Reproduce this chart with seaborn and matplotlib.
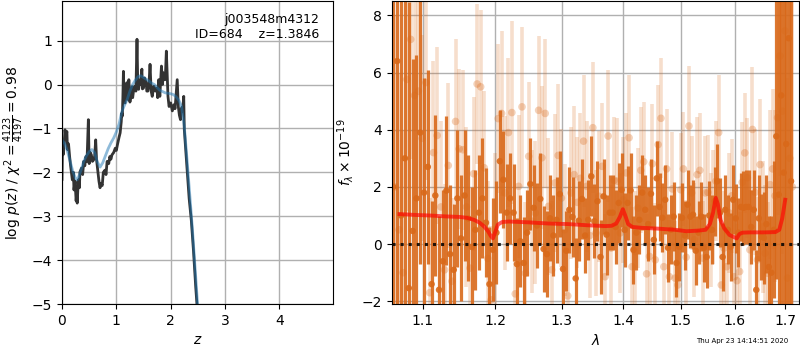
"""
Redshift fit summary: log p(z) on the left, 1D spectrum + best-fit model on the right.
"""

import matplotlib
matplotlib.use("Agg")
import matplotlib.pyplot as plt
import seaborn as sns
from matplotlib.ticker import NullLocator, FixedLocator, FixedFormatter


# ======================================================
# Data
# ======================================================

# log p(z) curve (dark, jagged)
pz_z = [0.00, 0.01, 0.02, 0.04, 0.055, 0.07, 0.09, 0.10, 0.12, 0.14,
        0.16, 0.19, 0.21, 0.22, 0.24, 0.26, 0.27, 0.28, 0.30, 0.32,
        0.33, 0.36, 0.38, 0.40, 0.42, 0.44, 0.46, 0.485, 0.50, 0.52,
        0.54, 0.56, 0.58, 0.60, 0.62, 0.635, 0.65, 0.68, 0.70, 0.72,
        0.74, 0.76, 0.79, 0.81, 0.83, 0.86, 0.88, 0.90, 0.92, 0.95,
        0.98, 1.00, 1.02, 1.05, 1.07, 1.09, 1.10, 1.11, 1.12, 1.13,
        1.14, 1.16, 1.19, 1.21, 1.23, 1.25, 1.27, 1.29, 1.30, 1.32,
        1.34, 1.36, 1.38, 1.395, 1.41, 1.43, 1.44, 1.47, 1.48, 1.50,
        1.52, 1.55, 1.56, 1.58, 1.60, 1.62, 1.64, 1.66, 1.69, 1.72,
        1.75, 1.76, 1.78, 1.80, 1.83, 1.85, 1.86, 1.88, 1.90, 1.92,
        1.95, 1.97, 2.00, 2.03, 2.06, 2.08, 2.12, 2.14, 2.16, 2.18,
        2.20, 2.22, 2.24, 2.25, 2.30, 2.34, 2.38, 2.42, 2.46, 2.50]
pz_logp = [-2.16, -1.30, -1.60, -1.35, -1.03, -1.20, -1.07, -1.48, -1.35, -1.64,
           -1.87, -2.17, -2.00, -2.40, -2.20, -2.65, -2.50, -2.70, -2.17, -2.35,
           -1.99, -1.90, -2.05, -1.75, -1.85, -1.64, -1.75, -0.80, -1.80, -1.55,
           -1.60, -1.75, -1.72, -1.64, -1.26, -1.70, -1.87, -2.20, -2.35, -2.25,
           -2.30, -2.00, -1.95, -2.05, -1.75, -1.80, -1.64, -1.70, -1.60, -1.55,
           -1.45, -1.50, -1.37, -1.20, -1.10, -0.85, -0.65, -0.72, -0.30, 0.30,
           -0.40, -0.42, 0.04, -0.34, 0.11, -0.40, -0.23, -0.05, -0.30, -0.11,
           -0.04, -0.15, 1.03, -0.05, -0.11, 0.10, 0.00, 0.35, -0.10, -0.08,
           0.15, 0.04, -0.15, -0.15, 0.00, 0.46, -0.15, -0.27, -0.04, -0.15,
           -0.08, -0.30, 0.11, -0.27, 0.42, 0.00, 0.27, 0.11, 0.11, 0.76,
           -0.27, -0.50, -0.42, -0.60, -0.46, -0.55, 0.11, -0.50, -0.70, -0.80,
           -0.53, -0.60, -0.27, -1.02, -1.90, -2.60, -3.10, -3.80, -4.60, -5.30]

# smooth curve (light blue)
prior_z = [0.00, 0.05, 0.10, 0.15, 0.20, 0.25, 0.28, 0.30, 0.35, 0.40,
           0.45, 0.50, 0.55, 0.60, 0.65, 0.70, 0.75, 0.80, 0.85, 0.90,
           0.95, 1.00, 1.05, 1.10, 1.15, 1.20, 1.25, 1.30, 1.35, 1.40,
           1.45, 1.50, 1.55, 1.60, 1.65, 1.70, 1.75, 1.80, 1.85, 1.90,
           1.95, 2.00, 2.05, 2.10, 2.15, 2.20, 2.25, 2.30, 2.35, 2.40,
           2.45, 2.50, 2.55]
prior_logp = [-1.26, -1.35, -1.52, -1.75, -1.98, -2.14, -2.17, -2.12, -1.95, -1.75,
              -1.62, -1.53, -1.48, -1.55, -1.76, -1.88, -1.78, -1.62, -1.46, -1.33,
              -1.22, -1.08, -0.90, -0.62, -0.47, -0.34, -0.15, 0.00, 0.10, 0.18,
              0.20, 0.16, 0.12, 0.08, 0.03, 0.00, -0.07, -0.13, -0.16, -0.19,
              -0.20, -0.21, -0.23, -0.28, -0.36, -0.50, -0.95, -1.70, -2.50, -3.30,
              -4.20, -5.10, -5.90]

# spectrum, combined (dark orange)
spec_wave = [1.062, 1.067, 1.072, 1.077, 1.082, 1.087, 1.092, 1.097, 1.102, 1.107,
             1.112, 1.117, 1.122, 1.127, 1.132, 1.137, 1.142, 1.147, 1.152, 1.157,
             1.162, 1.167, 1.172, 1.177, 1.182, 1.187, 1.192, 1.197, 1.202, 1.207,
             1.212, 1.217, 1.222, 1.227, 1.232, 1.237, 1.242, 1.247, 1.252, 1.257,
             1.262, 1.267, 1.272, 1.277, 1.282, 1.287, 1.292, 1.297, 1.302, 1.307,
             1.312, 1.317, 1.322, 1.327, 1.332, 1.337, 1.342, 1.347, 1.352, 1.357,
             1.362, 1.367, 1.372, 1.377, 1.382, 1.387, 1.392, 1.397, 1.402, 1.407,
             1.412, 1.417, 1.422, 1.427, 1.432, 1.437, 1.442, 1.447, 1.452, 1.457,
             1.462, 1.467, 1.472, 1.477, 1.482, 1.487, 1.492, 1.497, 1.502, 1.507,
             1.512, 1.517, 1.522, 1.527, 1.532, 1.537, 1.542, 1.547, 1.552, 1.557,
             1.562, 1.567, 1.572, 1.577, 1.582, 1.587, 1.592, 1.597, 1.602, 1.607,
             1.612, 1.617, 1.622, 1.627, 1.632, 1.637, 1.642, 1.647, 1.652, 1.657,
             1.662, 1.667, 1.672, 1.677, 1.682, 1.687, 1.692, 1.697, 1.702, 1.707,
             1.712]
spec_flux = [2.0, 6.4, 1.0, 3.0, -1.54, 0.46, 1.6, 3.9, 1.8, 2.7,
             -1.4, 1.7, -1.6, -0.6, 1.87, -0.35, -0.9, 1.6, 0.2, 1.7,
             0.9, -0.1, 0.5, 1.1, 1.6, 0.75, -1.4, -0.2, 0.4, 2.9,
             2.25, 1.1, 1.6, 1.1, -0.7, 0.1, -0.66, 0.4, 2.1, 1.27,
             0.65, 1.58, -0.17, -0.35, 0.9, 0.3, 0.85, 1.75, -0.87, -0.23,
             1.2, 0.95, -1.2, 0.82, 1.58, 0.3, 0.85, 2.37, 0.8, 1.5,
             -0.45, 1.67, 0.33, 1.1, 1.1, 0.6, 1.44, 1.9, 0.5, 1.44,
             1.88, -0.2, 0.4, 0.85, 1.8, 1.2, 0.7, 1.76, 0.15, 2.3,
             1.3, 0.92, 1.55, -0.13, 0.5, 0.96, -0.66, -0.1, 0.92, 0.3,
             1.38, 0.96, 1.03, -0.23, 0.4, 0.96, -0.13, -0.45, 1.0, 0.5,
             1.5, 2.2, 1.1, -0.45, 1.2, 0.5, -0.1, 1.55, 0.9, 0.4,
             1.3, 1.27, 1.3, 1.3, 0.6, 1.2, -1.6, 0.9, 0.26, 0.22,
             0.7, -0.8, -1.0, 0.5, 3.77, 1.73, 5.2, 2.5, 3.5, 7.2,
             2.2]
spec_err = [14, 12, 14, 11, 10, 6.0, 5.0, 4.6, 4.0, 3.4,
            2.9, 2.8, 2.6, 2.5, 2.6, 2.4, 2.3, 2.4, 2.2, 2.3,
            2.2, 2.1, 2.1, 2.0, 2.1, 1.9, 2.0, 1.8, 1.8, 1.8,
            1.7, 1.7, 1.6, 1.7, 1.6, 1.6, 1.6, 1.5, 1.6, 1.5,
            1.5, 1.6, 1.5, 1.5, 1.5, 1.4, 1.5, 1.5, 1.4, 1.4,
            1.5, 1.4, 1.4, 1.4, 1.4, 1.3, 1.4, 1.4, 1.3, 1.4,
            1.3, 1.3, 1.4, 1.3, 1.3, 1.3, 1.4, 1.3, 1.3, 1.3,
            1.3, 1.2, 1.3, 1.2, 1.3, 1.2, 1.3, 1.2, 1.2, 1.3,
            1.2, 1.2, 1.2, 1.2, 1.2, 1.2, 1.2, 1.2, 1.2, 1.2,
            1.2, 1.1, 1.2, 1.2, 1.1, 1.2, 1.2, 1.1, 1.2, 1.2,
            1.2, 1.3, 1.2, 1.2, 1.2, 1.2, 1.2, 1.2, 1.2, 1.2,
            1.2, 1.3, 1.3, 1.3, 1.3, 1.4, 1.4, 1.5, 1.5, 1.6,
            1.7, 1.8, 2.0, 2.4, 5.0, 9.0, 12, 14, 15, 15,
            16]

# spectrum, individual beams (pale orange)
beam_wave = [1.0645, 1.0695, 1.0745, 1.0795, 1.0845, 1.0895, 1.0945, 1.0995, 1.1045, 1.1095,
             1.1145, 1.1195, 1.1245, 1.1295, 1.1345, 1.1395, 1.1445, 1.1495, 1.1545, 1.1595,
             1.1645, 1.1695, 1.1745, 1.1795, 1.1845, 1.1895, 1.1945, 1.1995, 1.2045, 1.2095,
             1.2145, 1.2195, 1.2245, 1.2295, 1.2345, 1.2395, 1.2445, 1.2495, 1.2545, 1.2595,
             1.2645, 1.2695, 1.2745, 1.2795, 1.2845, 1.2895, 1.2945, 1.2995, 1.3045, 1.3095,
             1.3145, 1.3195, 1.3245, 1.3295, 1.3345, 1.3395, 1.3445, 1.3495, 1.3545, 1.3595,
             1.3645, 1.3695, 1.3745, 1.3795, 1.3845, 1.3895, 1.3945, 1.3995, 1.4045, 1.4095,
             1.4145, 1.4195, 1.4245, 1.4295, 1.4345, 1.4395, 1.4445, 1.4495, 1.4545, 1.4595,
             1.4645, 1.4695, 1.4745, 1.4795, 1.4845, 1.4895, 1.4945, 1.4995, 1.5045, 1.5095,
             1.5145, 1.5195, 1.5245, 1.5295, 1.5345, 1.5395, 1.5445, 1.5495, 1.5545, 1.5595,
             1.5645, 1.5695, 1.5745, 1.5795, 1.5845, 1.5895, 1.5945, 1.5995, 1.6045, 1.6095,
             1.6145, 1.6195, 1.6245, 1.6295, 1.6345, 1.6395, 1.6445, 1.6495, 1.6545, 1.6595,
             1.6645, 1.6695, 1.6745, 1.6795, 1.6845, 1.6895, 1.6945, 1.6995, 1.7045, 1.7095,
             1.7145]
beam_flux = [2.0, 0.5, -1.0, 5.76, 7.16, 5.2, 5.35, 3.7, 5.65, -1.7,
             3.2, 3.8, 1.3, -0.9, 2.75, -1.3, 4.29, 3.33, 3.3, 1.3,
             -0.84, 2.46, 5.6, 5.5, 2.67, -0.5, -1.95, 0.5, 4.39, 4.57,
             1.79, 3.9, 4.6, -1.74, 2.02, 4.8, -1.02, 3.07, 0.8, 1.09,
             4.68, 3.02, 4.57, 1.32, -0.9, 2.14, 3.1, 1.61, 0.5, -1.81,
             1.79, 2.43, 1.46, 2.3, 3.6, 2.02, 0.3, 4.07, 0.39, 1.67,
             2.72, -1.14, 3.78, -0.14, 2.23, 2.2, 0.39, 1.55, 2.49, 3.72,
             -0.79, -0.26, 1.26, 2.58, 2.88, -1.04, -0.43, 2.81, -0.55, 3.48,
             4.4, -0.79, 2.63, -1.14, 1.93, -1.19, -1.43, 1.9, 2.63, -0.46,
             4.13, 1.79, 0.15, 2.43, 2.58, -0.49, 1.79, 1.81, 0.5, 1.3,
             2.2, 3.9, -1.43, -0.14, -0.79, 1.09, 1.69, -1.14, -1.28, -0.96,
             2.16, 3.19, 2.32, -0.2, 4.01, 1.81, -0.55, 2.78, 0.6, -0.32,
             -1.02, 2.08, 2.63, 1.69, 4.42, 6.58, 4.65, 7.46, -1.19, 3.0,
             2.0]
beam_err = [6.0, 5.5, 5.0, 4.6, 4.2, 4.0, 3.8, 3.6, 3.4, 3.3,
            3.2, 3.1, 3.0, 3.0, 2.9, 2.9, 2.9, 2.8, 2.8, 2.8,
            2.8, 2.7, 2.8, 2.7, 2.7, 2.7, 2.6, 2.7, 2.6, 2.9,
            2.7, 2.6, 3.2, 2.6, 2.5, 2.8, 2.5, 2.6, 2.5, 2.5,
            2.6, 2.5, 2.6, 2.4, 2.4, 2.4, 2.5, 2.4, 2.3, 2.4,
            2.3, 2.4, 2.3, 2.3, 2.3, 2.3, 2.2, 2.3, 2.2, 2.3,
            2.2, 2.2, 2.3, 2.2, 2.2, 2.2, 2.1, 2.2, 2.1, 2.2,
            2.1, 2.1, 2.1, 2.2, 2.1, 2.1, 2.1, 2.1, 2.0, 2.1,
            2.1, 2.0, 2.1, 2.0, 2.0, 2.0, 2.0, 2.0, 2.0, 2.0,
            2.1, 2.0, 2.0, 2.0, 2.0, 2.0, 2.0, 2.0, 2.0, 2.0,
            2.1, 2.0, 2.0, 2.0, 2.0, 2.1, 2.0, 2.1, 2.0, 2.1,
            2.1, 2.1, 2.1, 2.1, 2.2, 2.2, 2.2, 2.3, 2.3, 2.4,
            2.5, 2.6, 2.8, 3.0, 3.4, 4.2, 5.0, 6.0, 7.0, 8.0,
            9.0]

# best-fit model
model_wave = [1.070, 1.090, 1.110, 1.130, 1.150, 1.160, 1.170, 1.178, 1.185, 1.190,
              1.194, 1.197, 1.200, 1.204, 1.210, 1.220, 1.250, 1.280, 1.310, 1.340,
              1.370, 1.380, 1.388, 1.394, 1.399, 1.403, 1.408, 1.415, 1.430, 1.460,
              1.490, 1.510, 1.530, 1.545, 1.553, 1.559, 1.564, 1.568, 1.573, 1.580,
              1.590, 1.598, 1.604, 1.609, 1.615, 1.630, 1.660, 1.680, 1.688, 1.694,
              1.700]
model_flux = [1.05, 1.02, 1.00, 0.97, 0.95, 0.92, 0.85, 0.75, 0.60, 0.45,
              0.28, 0.20, 0.40, 0.68, 0.77, 0.79, 0.76, 0.72, 0.70, 0.66,
              0.63, 0.64, 0.72, 0.95, 1.22, 1.00, 0.70, 0.60, 0.57, 0.54,
              0.50, 0.45, 0.47, 0.50, 0.70, 1.10, 1.62, 1.40, 0.85, 0.55,
              0.32, 0.25, 0.20, 0.35, 0.40, 0.41, 0.41, 0.42, 0.50, 0.90,
              1.55]

wave_ticks = [1.1, 1.2, 1.3, 1.4, 1.5, 1.6, 1.7]
wave_tick_labels = ["1.1", "1.2", "1.3", "1.4", "1.5", "1.6", "1.7"]

title_text = "j003548m4312\nID=684    z=1.3846"
stamp_text = "Thu Apr 23 14:14:51 2020"

ORANGE = "#d9691a"


# ======================================================
# Figure
# ======================================================

fig = plt.figure(figsize=(8, 3.5), dpi=100)
ax1 = fig.add_axes([0.0775, 0.131, 0.339, 0.866])
ax2 = fig.add_axes([0.4896, 0.131, 0.5095, 0.866])

# --- p(z) panel
sns.lineplot(x=pz_z, y=pz_logp, color="0.2", lw=2, ax=ax1)
sns.lineplot(x=prior_z, y=prior_logp, color="#1f77b4", alpha=0.5, lw=2, ax=ax1)
ax1.set_xlim(0, 4.99)
ax1.set_ylim(-5, 1.9)
ax1.set_xticks([0, 1, 2, 3, 4])
ax1.set_yticks([-5, -4, -3, -2, -1, 0, 1])
ax1.grid(True, color="#b0b0b0", lw=1)
ax1.set_axisbelow(True)
ax1.set_xlabel(r"$z$")
ax1.set_ylabel(r"log $p(z)$ / $\chi^2=\frac{4123}{4197}=0.98$")
ax1.text(0.95, 0.96, title_text, ha="right", va="top",
         transform=ax1.transAxes, fontsize=9)

# --- spectrum panel
ax2.set_xscale("log")
ax2.errorbar(beam_wave, beam_flux, yerr=beam_err, fmt="none",
             ecolor=ORANGE, alpha=0.22, elinewidth=2.6)
sns.scatterplot(x=beam_wave, y=beam_flux, color=ORANGE, alpha=0.3,
                s=30, edgecolor="none", ax=ax2)
ax2.errorbar(spec_wave, spec_flux, yerr=spec_err, fmt="none",
             ecolor=ORANGE, alpha=0.9, elinewidth=2.3)
sns.scatterplot(x=spec_wave, y=spec_flux, color=ORANGE, alpha=0.9,
                s=22, edgecolor="none", ax=ax2)
sns.lineplot(x=model_wave, y=model_flux, color="red", alpha=0.65, lw=2.8, ax=ax2)
ax2.axhline(0, color="k", ls=":", lw=2.2, alpha=0.85)

ax2.set_xlim(1.060, 1.729)
ax2.set_ylim(-2.1, 8.5)
ax2.xaxis.set_major_locator(FixedLocator(wave_ticks))
ax2.xaxis.set_major_formatter(FixedFormatter(wave_tick_labels))
ax2.xaxis.set_minor_locator(NullLocator())
ax2.set_yticks([-2, 0, 2, 4, 6, 8])
ax2.grid(True, color="#b0b0b0", lw=1)
ax2.set_axisbelow(True)
ax2.set_xlabel(r"$\lambda$")
ax2.set_ylabel(r"$f_\lambda\times10^{-19}$")

fig.text(0.985, 0.018, stamp_text, ha="right", va="bottom", fontsize=5)

fig.savefig("out.png", dpi=100)
